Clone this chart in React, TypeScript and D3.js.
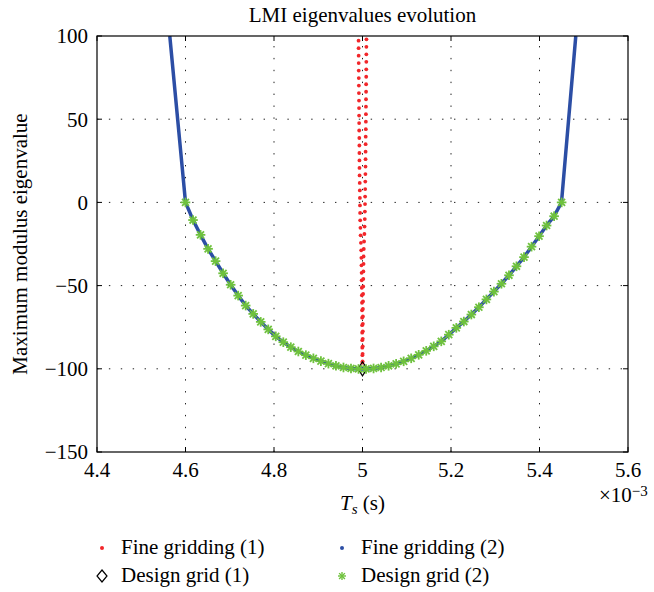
import React from 'react';
import * as d3 from 'd3';

// axis ticks (Ts in units of 1e-3 s)
const xTicks = [4.4, 4.6, 4.8, 5, 5.2, 5.4, 5.6];
const yTicks = [100, 50, 0, -50, -100, -150];

// Design grid (2): stars
const gridTs = [
  4.600, 4.617, 4.634, 4.651, 4.668, 4.685, 4.702, 4.719, 4.736, 4.753,
  4.770, 4.787, 4.804, 4.821, 4.838, 4.855, 4.872, 4.889, 4.906, 4.923,
  4.940, 4.957, 4.974, 4.991, 5.008, 5.025, 5.042, 5.059, 5.076, 5.093,
  5.110, 5.127, 5.144, 5.161, 5.178, 5.195, 5.212, 5.229, 5.246, 5.263,
  5.280, 5.297, 5.314, 5.331, 5.348, 5.365, 5.382, 5.399, 5.416, 5.433,
  5.450,
];
const gridEig = [
  0, -10.6, -19.5, -27.9, -35.3, -42.6, -49.5, -56.0, -62.0, -67.0,
  -71.8, -76.3, -80.5, -84.0, -87.0, -89.6, -91.8, -93.7, -95.4, -96.9,
  -98.2, -99.2, -99.8, -100.1, -100.1, -99.8, -99.2, -98.2, -97.0, -95.5,
  -93.7, -91.6, -89.2, -86.5, -83.5, -79.5, -75.4, -71.6, -67.4, -63.0,
  -58.3, -53.6, -48.9, -43.8, -38.4, -32.9, -26.6, -20.3, -13.9, -8.3,
  0,
];

// Fine gridding (2): steep branches outside the design interval
const fineLeftTs = [4.5645, 4.6];
const fineLeftEig = [100, 0];
const fineRightTs = [5.4497, 5.482];
const fineRightEig = [0, 100];

// Fine gridding (1): red points close to Ts = 5e-3
const redCenter = 5.0;
const redEig = [
  -95.5, -91, -86.5, -82, -77.5, -73, -68.5, -64, -59.5, -55,
  -50.5, -46, -41.5, -37, -32.5, -28, -23.5, -19, -14.5, -10,
  -5.5, -1, 3.5, 8, 12.5, 17, 21.5, 26, 30.5, 35,
  39.5, 44, 48.5, 53, 57.5, 62, 66.5, 71, 75.5, 80,
  84.5, 89, 93.5, 98, 102.5,
];
const redSpread = [
  0.0002, 0.0003, 0.0005, 0.0006, 0.0007, 0.0008, 0.0009, 0.001, 0.0011, 0.0014,
  0.0016, 0.0018, 0.002, 0.0023, 0.0025, 0.0029, 0.0036, 0.0043, 0.0047, 0.0052,
  0.0054, 0.0057, 0.0059, 0.0061, 0.0063, 0.0066, 0.0068, 0.0069, 0.007, 0.0071,
  0.0072, 0.0075, 0.0076, 0.0077, 0.0078, 0.0079, 0.0081, 0.0082, 0.0084, 0.0085,
  0.0086, 0.0087, 0.0088, 0.0089, 0.009,
];

// Design grid (1): diamond
const design1Ts = [5.0];
const design1Eig = [-100];

const legendItems = [
  { label: 'Fine gridding (1)', kind: 'red' },
  { label: 'Fine gridding (2)', kind: 'blue' },
  { label: 'Design grid (1)', kind: 'diamond' },
  { label: 'Design grid (2)', kind: 'star' },
];

const W = 654;
const H = 592;
const left = 97, right = 628, top = 36, bottom = 452;
const font = "'Liberation Serif', 'Times New Roman', 'DejaVu Serif', serif";
const RED = '#f2262a';
const BLUE = '#2c4ea5';
const GREEN = '#6fc23d';

const Star = ({ cx, cy, s, w = 1.7 }: { cx: number; cy: number; s: number; w?: number }) => {
  const d = s * 0.72;
  return (
    <g stroke={GREEN} strokeWidth={w}>
      <line x1={cx - s} y1={cy} x2={cx + s} y2={cy} />
      <line x1={cx} y1={cy - s} x2={cx} y2={cy + s} />
      <line x1={cx - d} y1={cy - d} x2={cx + d} y2={cy + d} />
      <line x1={cx - d} y1={cy + d} x2={cx + d} y2={cy - d} />
    </g>
  );
};

const Diamond = ({ cx, cy, w, h }: { cx: number; cy: number; w: number; h: number }) => (
  <path
    d={`M${cx},${cy - h}L${cx + w},${cy}L${cx},${cy + h}L${cx - w},${cy}Z`}
    fill="none"
    stroke="#000"
    strokeWidth={1.2}
  />
);

export default function App() {
  const x = d3.scaleLinear().domain([4.4, 5.6]).range([left, right]);
  const y = d3.scaleLinear().domain([-150, 100]).range([bottom, top]);

  const line = d3.line<[number, number]>()
    .x(d => x(d[0]))
    .y(d => y(d[1]));

  const bluePts: [number, number][] = [
    ...fineLeftTs.map((t, i) => [t, fineLeftEig[i]] as [number, number]),
    ...gridTs.slice(1, -1).map((t, i) => [t, gridEig[i + 1]] as [number, number]),
    ...fineRightTs.map((t, i) => [t, fineRightEig[i]] as [number, number]),
  ];

  const redPts: [number, number][] = [];
  redEig.forEach((v, i) => {
    redPts.push([redCenter - redSpread[i], v - 0.8]);
    redPts.push([redCenter + redSpread[i], v]);
  });

  const tickLen = 5;
  const midX = (left + right) / 2;
  const midY = (top + bottom) / 2;

  return (
    <svg width={W} height={H} style={{ position: 'absolute', left: 0, top: 0, background: '#fff', fontFamily: font }}>
      <defs>
        <clipPath id="plot">
          <rect x={left} y={top} width={right - left} height={bottom - top} />
        </clipPath>
      </defs>
      <rect width={W} height={H} fill="#fff" />

      {/* grid */}
      <g stroke="#222" strokeWidth={1} strokeDasharray="1.4,10.5">
        {xTicks.slice(1, -1).map(t => (
          <line key={'gx' + t} x1={x(t)} x2={x(t)} y1={bottom} y2={top} />
        ))}
        {yTicks.slice(1, -1).map(t => (
          <line key={'gy' + t} x1={left} x2={right} y1={y(t)} y2={y(t)} />
        ))}
      </g>

      <g clipPath="url(#plot)">
        {redPts.map((p, i) => (
          <circle key={'r' + i} cx={x(p[0])} cy={y(p[1])} r={1.9} fill={RED} />
        ))}
        <path d={line(bluePts) || ''} fill="none" stroke={BLUE} strokeWidth={3.5} strokeLinejoin="round" />
        {design1Ts.map((t, i) => (
          <Diamond key={'d' + i} cx={x(t)} cy={y(design1Eig[i])} w={4.5} h={7} />
        ))}
        {gridTs.map((t, i) => (
          <Star key={'s' + i} cx={x(t)} cy={y(gridEig[i])} s={4.8} w={1.8} />
        ))}
      </g>

      {/* box and ticks */}
      <rect x={left} y={top} width={right - left} height={bottom - top} fill="none" stroke="#000" strokeWidth={1.2} />
      <g stroke="#000" strokeWidth={1}>
        {xTicks.map(t => (
          <g key={'tx' + t}>
            <line x1={x(t)} x2={x(t)} y1={bottom} y2={bottom - tickLen} />
            <line x1={x(t)} x2={x(t)} y1={top} y2={top + tickLen} />
          </g>
        ))}
        {yTicks.map(t => (
          <g key={'ty' + t}>
            <line x1={left} x2={left + tickLen} y1={y(t)} y2={y(t)} />
            <line x1={right} x2={right - tickLen} y1={y(t)} y2={y(t)} />
          </g>
        ))}
      </g>

      {/* tick labels */}
      <g fontSize={21} fill="#000">
        {xTicks.map(t => (
          <text key={'lx' + t} x={x(t)} y={477} textAnchor="middle">{String(t)}</text>
        ))}
        {yTicks.map(t => (
          <text key={'ly' + t} x={left - 9} y={y(t)} dy="0.35em" textAnchor="end">
            {t < 0 ? '\u2212' + Math.abs(t) : String(t)}
          </text>
        ))}
      </g>

      {/* exponent */}
      <text x={599} y={502} fontSize={21}>
        ×10<tspan dy={-6} fontSize={15}>{'\u2212'}3</tspan>
      </text>

      {/* title and axis labels */}
      <text x={midX} y={22} textAnchor="middle" fontSize={21}>LMI eigenvalues evolution</text>
      <text x={midX} y={510} textAnchor="middle" fontSize={21}>
        <tspan fontStyle="italic">T</tspan>
        <tspan fontStyle="italic" fontSize={15} dy={4}>s</tspan>
        <tspan dy={-4}> (s)</tspan>
      </text>
      <text transform={`translate(27,${midY}) rotate(-90)`} textAnchor="middle" fontSize={21}>
        Maximum modulus eigenvalue
      </text>

      {/* legend */}
      <g fontSize={21}>
        {legendItems.map((it, i) => {
          const col = i % 2;
          const row = Math.floor(i / 2);
          const mx = col === 0 ? 102 : 342;
          const my = row === 0 ? 548 : 576;
          return (
            <g key={it.label}>
              {it.kind === 'red' && <circle cx={mx} cy={my} r={2} fill={RED} />}
              {it.kind === 'blue' && <circle cx={mx} cy={my} r={2} fill={BLUE} />}
              {it.kind === 'diamond' && <Diamond cx={mx} cy={my} w={5} h={6} />}
              {it.kind === 'star' && <Star cx={mx} cy={my} s={4} w={1.4} />}
              <text x={mx + 19} y={my + 6}>{it.label}</text>
            </g>
          );
        })}
      </g>
    </svg>
  );
}
